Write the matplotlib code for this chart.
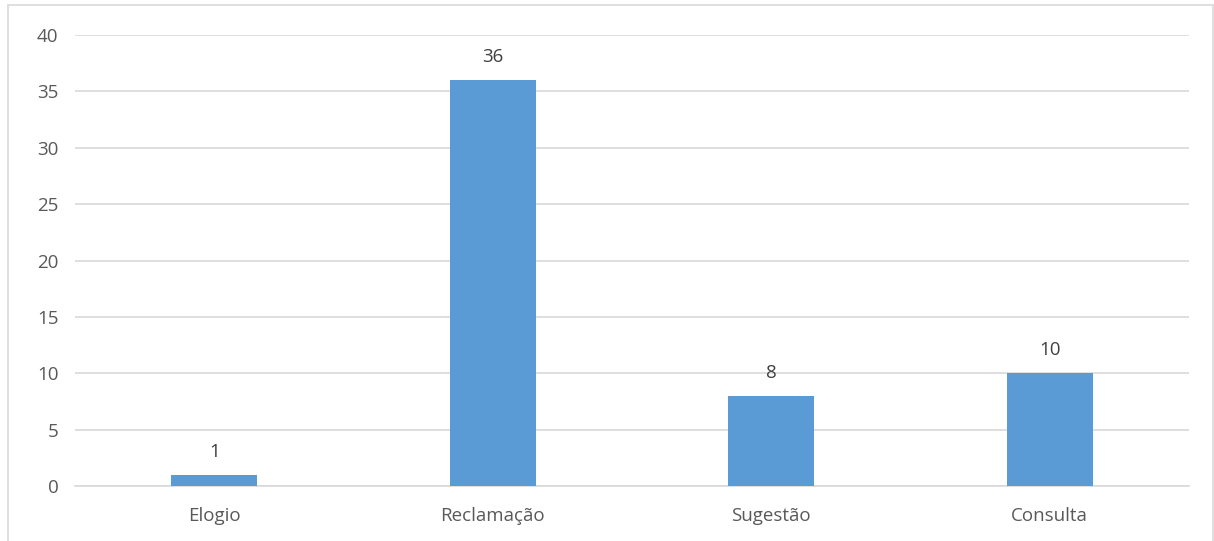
import matplotlib
matplotlib.use("Agg")
import matplotlib.pyplot as plt
from matplotlib.patches import Rectangle

categories = ["Elogio", "Reclamação", "Sugestão", "Consulta"]
values = [1, 36, 8, 10]
yticks = [0, 5, 10, 15, 20, 25, 30, 35, 40]

plt.rcParams['font.family'] = ['Open Sans', 'DejaVu Sans']
text_color = "#595959"
grid_color = "#D9D9D9"
bar_color = "#5B9BD5"

W, H = 1214, 541
fig = plt.figure(figsize=(W / 100, H / 100), dpi=100)
ax = fig.add_axes([75 / W, 55 / H, (1189 - 75) / W, (486 - 35) / H])

# outer chart border
fig.add_artist(Rectangle((8 / W, -0.05), (1213 - 8) / W, 1.05 - 5 / H,
                         transform=fig.transFigure, fill=False,
                         edgecolor=grid_color, linewidth=1.2))

x = list(range(len(categories)))
bars = ax.bar(x, values, width=0.31, color=bar_color, zorder=3)
ax.set_xlim(-0.5, len(categories) - 0.5)
ax.set_ylim(0, 40)
ax.set_yticks(yticks)
ax.set_yticklabels([str(t) for t in yticks])
ax.set_xticks(x)
ax.set_xticklabels(categories)
ax.yaxis.grid(True, color=grid_color, linewidth=1.2, zorder=0)
ax.set_axisbelow(True)
for s in ["top", "right", "left"]:
    ax.spines[s].set_visible(False)
ax.spines["bottom"].set_color(grid_color)
ax.spines["bottom"].set_linewidth(1.2)
ax.tick_params(axis="both", length=0, labelsize=13.5, labelcolor=text_color)
ax.tick_params(axis="y", pad=12)
ax.tick_params(axis="x", pad=15)

for b, v in zip(bars, values):
    ax.annotate(str(v), (b.get_x() + b.get_width() / 2, v),
                xytext=(0, 10), textcoords="offset points",
                ha="center", va="bottom", fontsize=13.5, color="#404040")

fig.savefig("out.png", dpi=100)
